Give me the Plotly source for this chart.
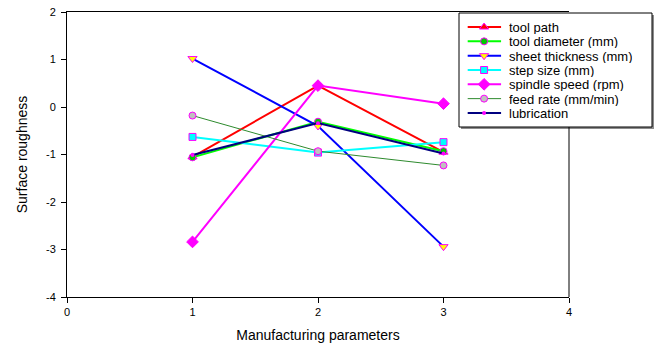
import plotly.graph_objects as go

x_vals = [1, 2, 3]
series_names = ["tool path", "tool diameter (mm)", "sheet thickness (mm)", "step size (mm)",
                "spindle speed (rpm)", "feed rate (mm/min)", "lubrication"]
tool_path = [-1.05, 0.45, -0.95]
tool_diameter = [-1.06, -0.31, -0.93]
sheet_thickness = [1.02, -0.40, -2.94]
step_size = [-0.63, -0.96, -0.74]
spindle_speed = [-2.84, 0.45, 0.07]
feed_rate = [-0.18, -0.93, -1.23]
lubrication = [-1.01, -0.34, -0.98]
x_ticks = [0, 1, 2, 3, 4]
y_ticks = [-4, -3, -2, -1, 0, 1, 2]
y_ticktext = ["-4", "-3", "-2", "-1", "0", "1", "2"]

MAG = "#ff00ff"
styles = [
    dict(line=dict(color="#ff0000", width=2), marker=dict(symbol="triangle-up", size=8, color="#ff0000", line=dict(color=MAG, width=1))),
    dict(line=dict(color="#00ff00", width=2), marker=dict(symbol="circle", size=7, color="#00cc00", line=dict(color=MAG, width=1))),
    dict(line=dict(color="#0000ff", width=2), marker=dict(symbol="triangle-down", size=8, color="#ffff00", line=dict(color=MAG, width=1))),
    dict(line=dict(color="#00ffff", width=2), marker=dict(symbol="square", size=7, color="#00ffff", line=dict(color=MAG, width=1))),
    dict(line=dict(color=MAG, width=2), marker=dict(symbol="diamond", size=9, color=MAG, line=dict(color=MAG, width=1))),
    dict(line=dict(color="#2e8b2e", width=1), marker=dict(symbol="circle", size=7, color="#c0c0c0", line=dict(color=MAG, width=1))),
    dict(line=dict(color="#000080", width=2), marker=dict(symbol="circle", size=4, color=MAG, line=dict(color=MAG, width=0))),
]
data = [tool_path, tool_diameter, sheet_thickness, step_size, spindle_speed, feed_rate, lubrication]

FONT = "Liberation Sans"
W, H = 659, 349
ML, MR, MT, MB = 67, 4, 12, 52
pw = W - ML - MR
ph = H - MT - MB
main_right = 569
leg_l, leg_r, leg_t, leg_b = 459, 652, 13, 127

def px_x(p):
    return (p - ML) / pw

def px_y(p):
    return 1 - (p - MT) / ph

fig = go.Figure()
for name, ys, st in zip(series_names, data, styles):
    fig.add_trace(go.Scatter(x=x_vals, y=ys, mode="lines+markers", name=name, showlegend=False,
                             xaxis="x", yaxis="y", **st))

# custom legend drawn in a small overlay subplot
n = len(series_names)
key_x0, key_xm, key_x1, text_x = 0.045, 0.13, 0.218, 0.254
for i, (name, st) in enumerate(zip(series_names, styles)):
    fig.add_trace(go.Scatter(x=[key_x0, key_x1], y=[i, i], mode="lines", line=st["line"],
                             showlegend=False, hoverinfo="skip", xaxis="x2", yaxis="y2"))
    fig.add_trace(go.Scatter(x=[key_xm], y=[i], mode="markers", marker=st["marker"],
                             showlegend=False, hoverinfo="skip", xaxis="x2", yaxis="y2"))
    fig.add_annotation(x=text_x, y=i, xref="x2", yref="y2", text=name, showarrow=False,
                       xanchor="left", yanchor="middle", height=14, borderpad=0,
                       font=dict(family=FONT, size=13, color="black"))

# legend box with shadow (below the subplots)
fig.add_shape(type="rect", xref="paper", yref="paper", layer="below",
              x0=px_x(leg_l + 2), x1=px_x(leg_r + 2), y0=px_y(leg_b + 2), y1=px_y(leg_t + 2),
              fillcolor="#8c8c8c", line=dict(width=0))
fig.add_shape(type="rect", xref="paper", yref="paper", layer="below",
              x0=px_x(leg_l), x1=px_x(leg_r), y0=px_y(leg_b), y1=px_y(leg_t),
              fillcolor="white", line=dict(color="black", width=1))
# right frame line of the main plot, visible below the legend box
fig.add_shape(type="line", xref="paper", yref="paper", layer="below",
              x0=px_x(main_right), x1=px_x(main_right), y0=0, y1=px_y(leg_b),
              line=dict(color="black", width=1))

fig.update_layout(
    width=W, height=H,
    margin=dict(l=ML, r=MR, t=MT, b=MB),
    plot_bgcolor="rgba(0,0,0,0)", paper_bgcolor="white",
    font=dict(family=FONT, size=11, color="black"),
    showlegend=False,
    xaxis=dict(domain=[0, px_x(main_right)], range=[0, 4], tickvals=x_ticks, showline=True, linecolor="black", linewidth=1,
               mirror=True, ticks="outside", ticklen=5, tickcolor="black", showgrid=False, zeroline=False,
               automargin=False,
               title=dict(text="Manufacturing parameters", font=dict(size=14), standoff=12)),
    yaxis=dict(range=[-4, 2], tickvals=y_ticks, ticktext=y_ticktext, showline=True, linecolor="black", linewidth=1,
               mirror=False, ticks="outside", ticklen=5, tickcolor="black", showgrid=False, zeroline=False,
               automargin=False, ticklabelstandoff=3,
               title=dict(text="Surface roughness", font=dict(size=14), standoff=15)),
    xaxis2=dict(domain=[px_x(leg_l), px_x(leg_r)], range=[0, 1], visible=False, anchor="y2", fixedrange=True),
    yaxis2=dict(domain=[px_y(leg_b), px_y(leg_t)], range=[n - 1 + 0.98, -0.98], visible=False, anchor="x2", fixedrange=True),
)
fig.write_html("out.html", config={"displayModeBar": False},
               post_script="document.body.style.margin='0';document.body.style.overflow='hidden';")
